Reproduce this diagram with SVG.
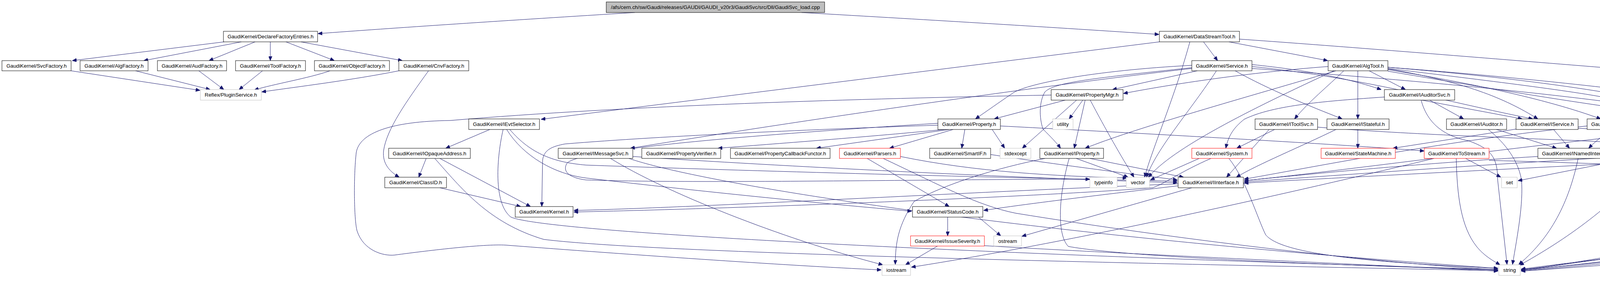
<svg xmlns="http://www.w3.org/2000/svg" width="5081" height="749" viewBox="0 0 5081 749">
<style>
.n rect{fill:#fff;stroke:#000;stroke-width:1}
.n.r rect{stroke:#ff0000}
.n.g rect{stroke:#bfbfbf}
.n.top rect{fill:#bfbfbf}
text{font-family:"Liberation Sans",Arial,sans-serif;font-size:13.3px;text-anchor:middle;fill:#000}
.e path{fill:none;stroke:#191970;stroke-width:1;marker-end:url(#a)}
</style>
<defs>
<marker id="a" markerWidth="11" markerHeight="9" refX="11" refY="4.5" orient="auto" markerUnits="userSpaceOnUse"><path d="M0,0 L11,4.5 L0,9 z" fill="#191970" stroke="#191970"/></marker>
</defs>
<rect width="5081" height="749" fill="#fff"/>
<g class="e" id="edges">
<path d="M1625,32 C1300,52 1000,72 814,86"/>
<path d="M2052,32 C2400,52 2700,70 2967,88"/>
<path d="M574,107 L185,155"/>
<path d="M618,107 L368,155"/>
<path d="M653,107 L535,155"/>
<path d="M692,107 L692,155"/>
<path d="M732,107 L856,155"/>
<path d="M770,107 L1030,155"/>
<path d="M182,181 L512,231"/>
<path d="M347,181 L538,229"/>
<path d="M509,181 L573,229"/>
<path d="M672,181 L612,229"/>
<path d="M845,181 C790,200 700,215 651,230"/>
<path d="M1021,181 C900,205 760,222 670,235"/>
<path d="M1097,181 C1040,260 990,330 982,385 C978,420 1000,440 1022,453"/>
<path d="M2968,107 L1385,305"/>
<path d="M3046,107 C3010,240 2950,380 2930,453"/>
<path d="M3081,107 L3117,155"/>
<path d="M3146,107 L3399,155"/>
<path d="M3173,100 C3600,130 4300,190 4867,233"/>
<path d="M1254,331 L1141,379"/>
<path d="M1288,331 C1272,400 1262,520 1308,555 C1400,595 2500,650 3835,689"/>
<path d="M1297,331 C1340,400 1420,445 1500,455 C1800,490 2100,520 2334,540"/>
<path d="M1305,331 C1360,395 1420,415 1500,422 C2000,440 2600,455 3014,463"/>
<path d="M1091,405 L1072,453"/>
<path d="M1126,405 L1358,528"/>
<path d="M1113,405 C1180,480 1250,570 1392,612 C1700,650 3000,675 3835,692"/>
<path d="M1126,480 L1333,528"/>
<path d="M2691,243 C2200,252 1600,270 1153,308 C1000,310 920,340 912,390 C905,450 906,560 914,590 C930,640 980,655 1010,652 C1100,640 1250,622 1300,627 C1600,650 2000,678 2256,690"/>
<path d="M2727,256 L2545,304"/>
<path d="M2756,256 L2617,379"/>
<path d="M2772,256 L2737,304"/>
<path d="M2778,256 L2750,379"/>
<path d="M2791,256 C2830,330 2870,400 2903,453"/>
<path d="M2401,320 C2100,330 1700,347 1446,368 C1415,374 1392,382 1389,410 L1387,528"/>
<path d="M2417,331 C2200,352 1950,370 1838,379"/>
<path d="M2430,331 L2090,379"/>
<path d="M2440,331 L2277,379"/>
<path d="M2470,331 L2462,379"/>
<path d="M2540,331 L2572,379"/>
<path d="M2404,315 C2000,340 1460,380 1450,420 C1440,440 1460,455 1500,460 C1800,470 2400,458 2790,458"/>
<path d="M2561,322 C3000,345 3450,370 3646,386"/>
<path d="M3065,181 L2848,229"/>
<path d="M3051,173 C2800,200 2700,210 2675,235 C2660,260 2660,300 2670,330 C2690,350 2705,365 2715,379"/>
<path d="M3051,167 C2800,180 2620,215 2590,240 C2560,260 2525,285 2497,304"/>
<path d="M3051,175 C2700,215 2100,300 1614,379"/>
<path d="M3205,170 C3500,200 3700,260 3924,304"/>
<path d="M3205,175 C3700,210 4200,260 4410,308"/>
<path d="M3205,165 C3350,180 3450,200 3536,229"/>
<path d="M3162,181 C3250,230 3350,270 3436,304"/>
<path d="M3114,181 C3050,280 2960,380 2935,453"/>
<path d="M3544,248 C3400,258 3260,268 3185,305 C3160,325 3145,345 3138,379"/>
<path d="M3400,170 C3200,185 3000,215 2876,239"/>
<path d="M3553,178 C3750,210 3950,250 4098,304"/>
<path d="M3553,176 C3750,210 3850,250 3937,304"/>
<path d="M3553,172 C3900,200 4200,240 4420,304"/>
<path d="M3505,181 L3598,229"/>
<path d="M3476,181 L3476,304"/>
<path d="M3440,181 C3400,220 3350,260 3314,304"/>
<path d="M3553,175 C3800,205 4050,235 4137,255 C4200,275 4240,310 4255,379"/>
<path d="M3420,181 C3150,260 2900,330 2778,379"/>
<path d="M3553,172 C4200,220 4700,300 4780,330 C4830,360 4845,420 4849,453"/>
<path d="M3415,181 C3200,280 3000,380 2940,453"/>
<path d="M3553,182 C3900,240 4300,310 4560,318 C4700,325 4780,360 4795,430 L4796,560 C4780,600 4730,620 4600,628 C4300,655 4000,685 3894,692"/>
<path d="M3640,256 L3897,304"/>
<path d="M3660,256 L3747,304"/>
<path d="M3638,256 C3650,300 3680,345 3760,360 C3815,380 3834,400 3834,460 L3858,676"/>
<path d="M3249,331 L3140,453"/>
<path d="M3263,331 L3166,379"/>
<path d="M3373,325 C3800,360 4420,360 4480,400 C4488,440 4486,560 4470,590 C4430,630 4100,660 3894,688"/>
<path d="M3476,331 L3476,379"/>
<path d="M3420,331 C3330,375 3220,420 3165,453"/>
<path d="M3831,331 L3985,379"/>
<path d="M3810,331 C3840,355 3885,400 3895,460 C3900,520 3885,600 3872,676"/>
<path d="M3977,331 L4018,379"/>
<path d="M3881,330 L3566,379"/>
<path d="M4121,331 C4100,350 4080,365 4067,379"/>
<path d="M4063,322 C3700,360 3400,420 3185,458"/>
<path d="M4040,328 C4200,335 4420,345 4430,400 C4437,450 4436,560 4425,590 C4400,620 4300,640 4200,650 C4000,675 3950,685 3894,690"/>
<path d="M4220,325 C4300,335 4370,360 4380,400 C4388,440 4385,540 4375,570 C4350,610 4300,625 4250,633 C4100,660 3950,685 3894,689"/>
<path d="M4412,322 C3900,370 3500,430 3185,462"/>
<path d="M4526,331 L4589,379"/>
<path d="M4591,322 C4680,335 4740,360 4745,420 L4746,540 C4740,600 4700,610 4620,620 C4300,650 4000,682 3894,690"/>
<path d="M4591,325 C4700,340 4800,360 4830,400 C4840,420 4843,440 4844,453"/>
<path d="M4868,253 C4600,275 4400,300 4222,310"/>
<path d="M4968,256 C4955,300 4950,480 4945,560 C4935,610 4900,625 4820,630 C4500,645 4100,680 3894,693"/>
<path d="M1620,400 C2000,425 2600,455 3014,467"/>
<path d="M1563,405 C1700,490 2000,610 2260,677"/>
<path d="M1610,405 C1800,470 2600,600 3835,686"/>
<path d="M2220,405 L2430,528"/>
<path d="M2261,405 C2400,470 2500,525 2600,545 C3000,610 3500,670 3835,690"/>
<path d="M2305,400 C2500,440 2700,450 2885,455"/>
<path d="M2536,395 C2700,420 2900,445 3014,460"/>
<path d="M2790,405 L3030,453"/>
<path d="M2755,405 L2888,453"/>
<path d="M2737,405 C2710,500 2705,600 2735,630 C2900,660 3500,680 3835,690"/>
<path d="M2675,405 C2550,430 2420,470 2340,515 C2300,575 2292,620 2292,676"/>
<path d="M3070,405 L2945,460"/>
<path d="M3146,405 C3190,460 3220,560 3240,600 C3280,650 3500,670 3835,686"/>
<path d="M3100,405 C3020,440 2990,465 2951,480 C2700,500 2000,530 1469,542"/>
<path d="M3752,405 L3842,453"/>
<path d="M3728,405 C3730,500 3740,580 3780,630 C3800,655 3825,668 3840,677"/>
<path d="M3671,405 C3400,470 2800,610 2333,683"/>
<path d="M3812,410 C4200,420 4600,440 4834,448"/>
<path d="M3937,400 C3600,420 3300,450 3185,462"/>
<path d="M4040,405 C4020,500 3980,600 3888,676"/>
<path d="M4169,400 C3800,420 3400,450 3185,465"/>
<path d="M4240,405 C4150,500 4050,590 3890,678"/>
<path d="M4175,405 L3886,462"/>
<path d="M4523,398 C4100,420 3500,450 3185,468"/>
<path d="M4616,405 C4600,480 4570,560 4510,600 C4300,650 4000,682 3894,690"/>
<path d="M3016,470 C2500,490 1800,530 1469,538"/>
<path d="M3016,475 C2800,500 2600,525 2518,538"/>
<path d="M3051,480 L2616,604"/>
<path d="M2426,555 L2426,603"/>
<path d="M2505,555 L2562,603"/>
<path d="M2400,629 L2318,677"/>
<path d="M2520,628 C2800,645 3400,672 3835,693"/>
</g>
<g id="nodes">
<g class="n top" id="n_top"><rect x="1552" y="5" width="559" height="27"/><text x="1831.5" y="23">/afs/cern.ch/sw/Gaudi/releases/GAUDI/GAUDI_v20r3/GaudiSvc/src/Dll/GaudiSvc_load.cpp</text></g>
<g class="n" id="n_dfe"><rect x="572" y="80" width="241" height="27"/><text x="692.5" y="98">GaudiKernel/DeclareFactoryEntries.h</text></g>
<g class="n" id="n_dst"><rect x="2968" y="80" width="205" height="27"/><text x="3070.5" y="98">GaudiKernel/DataStreamTool.h</text></g>
<g class="n" id="n_svcf"><rect x="5" y="155" width="177" height="26"/><text x="93.5" y="172.5">GaudiKernel/SvcFactory.h</text></g>
<g class="n" id="n_algf"><rect x="205" y="155" width="174" height="26"/><text x="292" y="172.5">GaudiKernel/AlgFactory.h</text></g>
<g class="n" id="n_audf"><rect x="403" y="155" width="177" height="26"/><text x="491.5" y="172.5">GaudiKernel/AudFactory.h</text></g>
<g class="n" id="n_toolf"><rect x="603" y="155" width="179" height="26"/><text x="692.5" y="172.5">GaudiKernel/ToolFactory.h</text></g>
<g class="n" id="n_objf"><rect x="805" y="155" width="192" height="26"/><text x="901" y="172.5">GaudiKernel/ObjectFactory.h</text></g>
<g class="n" id="n_cnvf"><rect x="1021" y="155" width="179" height="26"/><text x="1110.5" y="172.5">GaudiKernel/CnvFactory.h</text></g>
<g class="n" id="n_svc"><rect x="3051" y="155" width="154" height="26"/><text x="3128" y="172.5">GaudiKernel/Service.h</text></g>
<g class="n" id="n_algtool"><rect x="3400" y="155" width="153" height="26"/><text x="3476.5" y="172.5">GaudiKernel/AlgTool.h</text></g>
<g class="n g" id="n_ps"><rect x="513" y="229" width="156" height="27"/><text x="591" y="247">Reflex/PluginService.h</text></g>
<g class="n" id="n_pmgr"><rect x="2691" y="229" width="184" height="27"/><text x="2783" y="247">GaudiKernel/PropertyMgr.h</text></g>
<g class="n" id="n_iaudsvc"><rect x="3544" y="229" width="180" height="27"/><text x="3634" y="247">GaudiKernel/IAuditorSvc.h</text></g>
<g class="n" id="n_idst"><rect x="4868" y="229" width="209" height="27"/><text x="4972.5" y="247">GaudiKernel/IDataStreamTool.h</text></g>
<g class="n" id="n_ievtsel"><rect x="1200" y="304" width="181" height="27"/><text x="1290.5" y="322">GaudiKernel/IEvtSelector.h</text></g>
<g class="n" id="n_prop"><rect x="2401" y="304" width="160" height="27"/><text x="2481" y="322">GaudiKernel/Property.h</text></g>
<g class="n g" id="n_utility"><rect x="2695" y="304" width="52" height="27"/><text x="2721" y="322">utility</text></g>
<g class="n" id="n_itoolsvc"><rect x="3213" y="304" width="160" height="27"/><text x="3293" y="322">GaudiKernel/IToolSvc.h</text></g>
<g class="n" id="n_istateful"><rect x="3397" y="304" width="159" height="27"/><text x="3476.5" y="322">GaudiKernel/IStateful.h</text></g>
<g class="n" id="n_iauditor"><rect x="3703" y="304" width="154" height="27"/><text x="3780" y="322">GaudiKernel/IAuditor.h</text></g>
<g class="n" id="n_iservice"><rect x="3881" y="304" width="159" height="27"/><text x="3960.5" y="322">GaudiKernel/IService.h</text></g>
<g class="n" id="n_ialgtool"><rect x="4063" y="304" width="157" height="27"/><text x="4141.5" y="322">GaudiKernel/IAlgTool.h</text></g>
<g class="n" id="n_isvcloc"><rect x="4412" y="304" width="179" height="27"/><text x="4501.5" y="322">GaudiKernel/ISvcLocator.h</text></g>
<g class="n" id="n_iopaque"><rect x="995" y="379" width="209" height="26"/><text x="1099.5" y="396.5">GaudiKernel/IOpaqueAddress.h</text></g>
<g class="n" id="n_imsgsvc"><rect x="1429" y="379" width="191" height="26"/><text x="1524.5" y="396.5">GaudiKernel/IMessageSvc.h</text></g>
<g class="n" id="n_pverif"><rect x="1643" y="379" width="202" height="26"/><text x="1744" y="396.5">GaudiKernel/PropertyVerifier.h</text></g>
<g class="n" id="n_pcf"><rect x="1870" y="379" width="255" height="26"/><text x="1997.5" y="396.5">GaudiKernel/PropertyCallbackFunctor.h</text></g>
<g class="n r" id="n_parsers"><rect x="2149" y="379" width="156" height="26"/><text x="2227" y="396.5">GaudiKernel/Parsers.h</text></g>
<g class="n" id="n_smartif"><rect x="2380" y="379" width="156" height="26"/><text x="2458" y="396.5">GaudiKernel/SmartIF.h</text></g>
<g class="n g" id="n_stdexcept"><rect x="2560" y="379" width="79" height="26"/><text x="2599.5" y="396.5">stdexcept</text></g>
<g class="n" id="n_iprop"><rect x="2662" y="379" width="163" height="26"/><text x="2743.5" y="396.5">GaudiKernel/IProperty.h</text></g>
<g class="n r" id="n_system"><rect x="3051" y="379" width="154" height="26"/><text x="3128" y="396.5">GaudiKernel/System.h</text></g>
<g class="n r" id="n_statemachine"><rect x="3382" y="379" width="190" height="26"/><text x="3477" y="396.5">GaudiKernel/StateMachine.h</text></g>
<g class="n r" id="n_tostream"><rect x="3646" y="379" width="166" height="26"/><text x="3729" y="396.5">GaudiKernel/ToStream.h</text></g>
<g class="n" id="n_inamed"><rect x="3937" y="379" width="208" height="26"/><text x="4041" y="396.5">GaudiKernel/INamedInterface.h</text></g>
<g class="n" id="n_imonsvc"><rect x="4169" y="379" width="180" height="26"/><text x="4259" y="396.5">GaudiKernel/IMonitorSvc.h</text></g>
<g class="n" id="n_isvcmgr"><rect x="4523" y="379" width="188" height="26"/><text x="4617" y="396.5">GaudiKernel/ISvcManager.h</text></g>
<g class="n" id="n_classid"><rect x="985" y="453" width="158" height="27"/><text x="1064" y="471">GaudiKernel/ClassID.h</text></g>
<g class="n g" id="n_typeinfo"><rect x="2790" y="453" width="70" height="27"/><text x="2825" y="471">typeinfo</text></g>
<g class="n g" id="n_vector"><rect x="2883" y="453" width="60" height="27"/><text x="2913" y="471">vector</text></g>
<g class="n" id="n_iinterface"><rect x="3016" y="453" width="167" height="27"/><text x="3099.5" y="471">GaudiKernel/IInterface.h</text></g>
<g class="n g" id="n_set"><rect x="3844" y="453" width="40" height="27"/><text x="3864" y="471">set</text></g>
<g class="n g" id="n_list"><rect x="4836" y="453" width="37" height="27"/><text x="4854.5" y="471">list</text></g>
<g class="n" id="n_kernel"><rect x="1319" y="528" width="148" height="27"/><text x="1393" y="546">GaudiKernel/Kernel.h</text></g>
<g class="n" id="n_statuscode"><rect x="2336" y="528" width="180" height="27"/><text x="2426" y="546">GaudiKernel/StatusCode.h</text></g>
<g class="n r" id="n_issuesev"><rect x="2331" y="603" width="189" height="26"/><text x="2425.5" y="620.5">GaudiKernel/IssueSeverity.h</text></g>
<g class="n g" id="n_ostream"><rect x="2544" y="603" width="71" height="26"/><text x="2579.5" y="620.5">ostream</text></g>
<g class="n g" id="n_iostream"><rect x="2258" y="677" width="73" height="27"/><text x="2294.5" y="695">iostream</text></g>
<g class="n g" id="n_string"><rect x="3837" y="677" width="55" height="27"/><text x="3864.5" y="695">string</text></g>
</g>
</svg>
